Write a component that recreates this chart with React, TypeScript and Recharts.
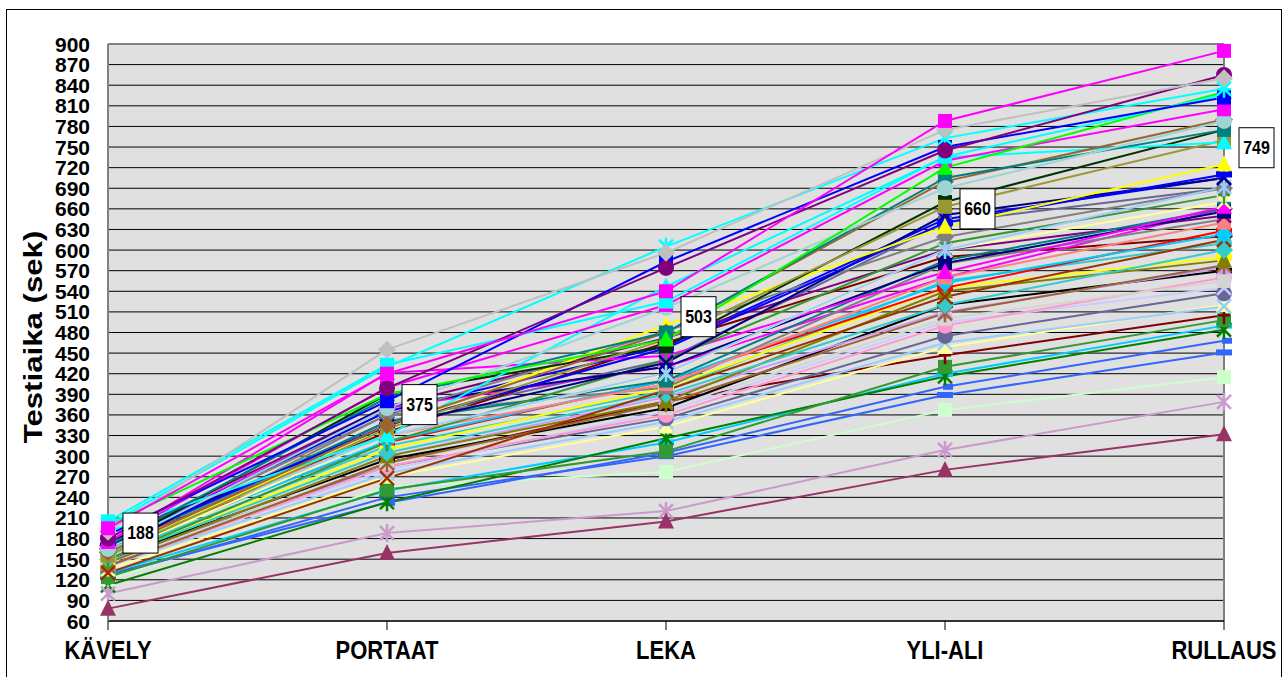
import React from 'react';
import { LineChart, Line, XAxis, YAxis, CartesianGrid, ReferenceLine } from 'recharts';

const categories = ['KÄVELY', 'PORTAAT', 'LEKA', 'YLI-ALI', 'RULLAUS'];
const yTicks = [60, 90, 120, 150, 180, 210, 240, 270, 300, 330, 360, 390, 420, 450, 480, 510, 540, 570, 600, 630, 660, 690, 720, 750, 780, 810, 840, 870, 900];
const meanValues = [188, 375, 503, 660, 749];

const s01 = [195, 420, 540, 788, 890];
const s02 = [190, 455, 596, 775, 850];
const s03 = [180, 399, 574, 745, 855];
const s04 = [200, 430, 605, 763, 835];
const s05 = [185, 380, 583, 750, 822];
const s06 = [205, 433, 525, 736, 826];
const s07 = [200, 390, 470, 720, 830];
const s08 = [175, 400, 520, 730, 805];
const s09 = [165, 370, 516, 690, 788];
const s10 = [170, 385, 480, 705, 775];
const s11 = [160, 345, 480, 700, 790];
const s12 = [190, 330, 547, 735, 757];
const s13 = [155, 340, 470, 663, 760];
const s14 = [165, 390, 460, 670, 775];
const s15 = [160, 340, 491, 634, 725];
const s16 = [170, 345, 457, 640, 710];
const s17 = [175, 343, 436, 651, 705];
const s18 = [163, 330, 421, 600, 692];
const s19 = [170, 360, 482, 619, 690];
const s20 = [150, 320, 440, 610, 680];
const s21 = [155, 330, 420, 600, 670];
const s22 = [175, 421, 446, 568, 663];
const s23 = [160, 373, 430, 581, 656];
const s24 = [165, 350, 410, 585, 660];
const s25 = [175, 372, 472, 600, 650];
const s26 = [165, 330, 405, 560, 640];
const s27 = [155, 360, 400, 580, 645];
const s28 = [160, 322, 410, 552, 623];
const s29 = [165, 320, 410, 545, 628];
const s30 = [130, 268, 396, 532, 615];
const s31 = [150, 305, 390, 520, 600];
const s32 = [145, 300, 380, 540, 585];
const s33 = [150, 310, 400, 545, 590];
const s34 = [140, 290, 377, 508, 578];
const s35 = [145, 300, 386, 510, 575];
const s36 = [150, 295, 370, 520, 570];
const s37 = [145, 290, 370, 500, 555];
const s38 = [140, 285, 360, 490, 560];
const s39 = [145, 280, 365, 495, 545];
const s40 = [150, 285, 355, 475, 537];
const s41 = [140, 275, 350, 465, 518];
const s42 = [135, 270, 343, 459, 520];
const s43 = [140, 290, 380, 447, 505];
const s44 = [124, 251, 307, 430, 498];
const s45 = [112, 233, 326, 416, 484];
const s46 = [130, 250, 320, 420, 490];
const s47 = [128, 232, 305, 401, 468];
const s48 = [125, 240, 300, 389, 451];
const s49 = [120, 255, 277, 367, 415];
const s50 = [100, 188, 220, 309, 379];
const s51 = [78, 159, 205, 280, 332];
const s52 = [170, 365, 460, 645, 705];
const s53 = [155, 315, 395, 555, 610];
const s54 = [170, 370, 430, 560, 660];
const s55 = [165, 335, 465, 590, 620];
const s56 = [160, 350, 440, 640, 690];

const seriesList = [
  s56, s55, s54, s53, s52, s49, s48, s47, s46, s45, s44, s43, s42, s41, s40, s39, s38, s37, s36, s35,
  s34, s33, s32, s31, s30, s29, s28, s27, s26, s25, s24, s23, s22, s21, s20, s19, s18, s17, s16, s15,
  s14, s13, s12, s11, s10, s09, s08, s07, s06, s05, s04, s03, s02, s01, s50, s51,
];

const seriesColors = [
  '#666699', '#800000', '#FF00FF', '#33CCCC', '#0000FF', '#CCFFCC', '#3366FF', '#3366FF', '#00CCFF', '#008000', '#339933', '#800000', '#FFFF99', '#99CCFF', '#666699', '#CCCCFF', '#FF99CC', '#D4D4D4', '#000000', '#CC99FF',
  '#996633', '#FFFF00', '#808000', '#33CCCC', '#993300', '#FF0000', '#00CCFF', '#808080', '#FF8080', '#800080', '#008080', '#000080', '#FF00FF', '#FFFF99', '#339933', '#808080', '#99CCFF', '#000080', '#0000FF', '#FFFF00',
  '#003300', '#999933', '#00FFFF', '#996633', '#008080', '#A0D4D4', '#FF00FF', '#00FF00', '#00FFFF', '#0000FF', '#00FFFF', '#800080', '#C0C0C0', '#FF00FF', '#CC99CC', '#993366',
];

const seriesMarkers = [
  'square', 'diamond', 'diamond', 'circle', 'x', 'square', 'dash', 'short', 'dash', 'star', 'square', 'plus', 'triangle', 'x', 'circle', 'x', 'circle', 'square', 'dash', 'triangle',
  'star', 'circle', 'triangle', 'diamond', 'x', 'dash', 'diamond', 'square', 'square', 'x', 'square', 'square', 'triangle', 'x', 'plus', 'diamond', 'star', 'x', 'dash', 'triangle',
  'square', 'square', 'triangle', 'diamond', 'square', 'circle', 'square', 'triangle', 'square', 'square', 'star', 'circle', 'diamond', 'square', 'star', 'triangle',
];

const chartData = categories.map((c, i) => {
  const row: any = { cat: c, mean: meanValues[i] };
  seriesList.forEach((s, k) => {
    row['s' + k] = s[i];
  });
  return row;
});

const FONT = "'Liberation Sans', Arial, Helvetica, sans-serif";

function drawMarker(shape: string, color: string, cx: number, cy: number, key: string) {
  switch (shape) {
    case 'square':
      return <rect key={key} x={cx - 7} y={cy - 7} width={14} height={14} fill={color} />;
    case 'diamond':
      return <polygon key={key} points={`${cx},${cy - 9} ${cx + 9},${cy} ${cx},${cy + 9} ${cx - 9},${cy}`} fill={color} />;
    case 'triangle':
      return <polygon key={key} points={`${cx},${cy - 9} ${cx + 8},${cy + 7} ${cx - 8},${cy + 7}`} fill={color} />;
    case 'circle':
      return <circle key={key} cx={cx} cy={cy} r={8} fill={color} />;
    case 'x':
      return (
        <path key={key} d={`M${cx - 7},${cy - 7}L${cx + 7},${cy + 7}M${cx + 7},${cy - 7}L${cx - 7},${cy + 7}`} stroke={color} strokeWidth={2.5} fill="none" />
      );
    case 'star':
      return (
        <path key={key} d={`M${cx - 7},${cy - 7}L${cx + 7},${cy + 7}M${cx + 7},${cy - 7}L${cx - 7},${cy + 7}M${cx},${cy - 9}L${cx},${cy + 9}`} stroke={color} strokeWidth={2.5} fill="none" />
      );
    case 'plus':
      return <path key={key} d={`M${cx},${cy - 9}L${cx},${cy + 9}M${cx - 6},${cy}L${cx + 6},${cy}`} stroke={color} strokeWidth={2.5} fill="none" />;
    case 'dash':
      return <rect key={key} x={cx - 8} y={cy - 3} width={16} height={6} fill={color} />;
    case 'short':
      return <rect key={key} x={cx - 2} y={cy - 3} width={10} height={6} fill={color} />;
    default:
      return <g key={key} />;
  }
}

function makeDot(shape: string, color: string, sIdx: number) {
  return (props: any) => {
    const { cx, cy, index } = props;
    if (cx == null || cy == null) return <g key={`d${sIdx}-${index}`} />;
    return drawMarker(shape, color, cx, cy, `d${sIdx}-${index}`);
  };
}

const XTick = (props: any) => {
  const { x, y, payload } = props;
  return (
    <text
      transform={`translate(${x},${y + 27}) scale(1,1.18)`}
      textAnchor="middle"
      fontFamily={FONT}
      fontWeight="bold"
      fontSize={22}
      fill="#000"
    >
      {payload.value}
    </text>
  );
};

const YTick = (props: any) => {
  const { x, y, payload } = props;
  return (
    <text x={x} y={y + 7.5} textAnchor="end" fontFamily={FONT} fontWeight="bold" fontSize={21} fill="#000">
      {payload.value}
    </text>
  );
};

const YTitle = () => (
  <text
    transform="translate(42,337) rotate(-90) scale(1.2,1)"
    textAnchor="middle"
    fontFamily={FONT}
    fontWeight="bold"
    fontSize={26}
    fill="#000"
  >
    Testiaika (sek)
  </text>
);

const MeanLabel = (props: any) => {
  const { x, y, value, index } = props;
  if (x == null || y == null) return null;
  const bx = x + 15;
  const by = y - 20;
  return (
    <g key={`ml${index}`}>
      <rect x={bx} y={by} width={35} height={40} fill="#fff" stroke="#000" strokeWidth={1} />
      <text
        transform={`translate(${bx + 17.5},${by + 26}) scale(1,1.15)`}
        textAnchor="middle"
        fontFamily={FONT}
        fontWeight="bold"
        fontSize={16}
        fill="#000"
      >
        {value}
      </text>
    </g>
  );
};

export default function App() {
  return (
    <div style={{ position: 'absolute', left: 0, top: 0, width: 1288, height: 677, background: '#fff', overflow: 'hidden' }}>
      <div style={{ position: 'absolute', left: 6, top: 9, width: 1276, height: 700, border: '1px solid #000', boxSizing: 'border-box' }} />
      <div style={{ position: 'absolute', left: 0, top: 0 }}>
        <LineChart width={1288} height={677} data={chartData} margin={{ top: 44, right: 64, bottom: 16, left: 48 }}>
          <CartesianGrid horizontal vertical={false} fill="#E0E0E0" stroke="#000" strokeWidth={1} />
          <XAxis
            dataKey="cat"
            height={40}
            tick={<XTick />}
            tickSize={9}
            tickMargin={2}
            tickLine={{ stroke: '#000', strokeWidth: 1 }}
            axisLine={{ stroke: '#333', strokeWidth: 2 }}
            interval={0}
          />
          <YAxis
            width={60}
            domain={[60, 900]}
            ticks={yTicks}
            interval={0}
            tick={<YTick />}
            tickLine={false}
            tickSize={0}
            tickMargin={18}
            axisLine={{ stroke: '#808080', strokeWidth: 2 }}
            label={{ content: () => <YTitle /> }}
          />
          <ReferenceLine y={900} stroke="#808080" strokeWidth={2} />
          <ReferenceLine x="RULLAUS" stroke="#808080" strokeWidth={2} />
          {seriesList.map((_, k) => (
            <Line
              key={'s' + k}
              type="linear"
              dataKey={'s' + k}
              stroke={seriesColors[k]}
              strokeWidth={2}
              dot={makeDot(seriesMarkers[k], seriesColors[k], k)}
              activeDot={false}
              isAnimationActive={false}
            />
          ))}
          <Line
            type="linear"
            dataKey="mean"
            stroke="none"
            dot={false}
            activeDot={false}
            isAnimationActive={false}
            label={(p: any) => <MeanLabel {...p} />}
          />
        </LineChart>
      </div>
    </div>
  );
}
